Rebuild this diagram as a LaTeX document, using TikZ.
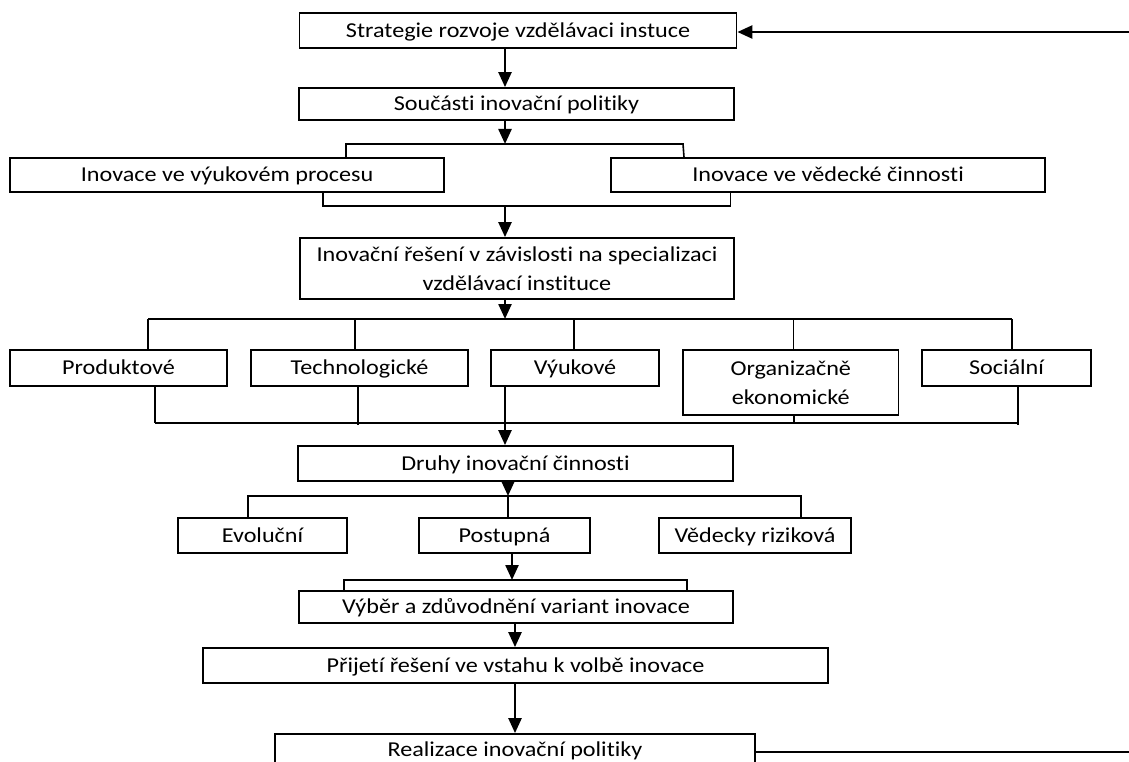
\documentclass[tikz,border=0pt]{standalone}
\usepackage{fontspec}
\setmainfont{Carlito}[FakeStretch=1.14, Ligatures=NoCommon]
\usetikzlibrary{arrows.meta}
\begin{document}
\begin{tikzpicture}[x=1pt,y=-1pt,
  box/.style={draw, line width=1.8pt, inner sep=0pt, font=\fontsize{21.2}{29}\selectfont},
  one/.style={text height=13.6pt, text depth=0pt},
  arr/.style={line width=2.4pt, -{Triangle[length=15pt,width=13pt]}},
  conn/.style={line width=1.6pt},
  thin conn/.style={line width=2pt}]
\useasboundingbox (0,0) rectangle (1129,762);
\clip (0,0) rectangle (1129,762);
% boxes
\node[box, one, minimum width=437pt, minimum height=35pt] (b1) at (518,30.5) {Strategie rozvoje vzdělávaci instuce};
\node[box, one, minimum width=435pt, minimum height=32pt] (b2) at (516.5,104) {Součásti inovační politiky};
\node[box, one, minimum width=434pt, minimum height=34pt] (b3) at (227,175) {Inovace ve výukovém procesu};
\node[box, one, minimum width=434pt, minimum height=34pt] (b4) at (828,175) {Inovace ve vědecké činnosti};
\node[box, align=center, minimum width=434pt, minimum height=61pt] (b5) at (517,268.5) {Inovační řešení v závislosti na specializaci\\vzdělávací instituce};
\node[box, one, minimum width=217pt, minimum height=36pt] (p1) at (118.5,368) {Produktové};
\node[box, one, minimum width=217pt, minimum height=36pt] (p2) at (359.5,368) {Technologické};
\node[box, one, minimum width=168pt, minimum height=36pt] (p3) at (575,368) {Výukové};
\node[box, align=center, minimum width=215.5pt, minimum height=65pt] (p4) at (790.75,382.5) {Organizačně\\ekonomické};
\node[box, one, minimum width=169pt, minimum height=36pt] (p5) at (1006.5,368) {Sociální};
\node[box, one, minimum width=435pt, minimum height=35pt] (d) at (515.5,463.5) {Druhy inovační činnosti};
\node[box, one, minimum width=169pt, minimum height=35pt] (e1) at (262.5,535.5) {Evoluční};
\node[box, one, minimum width=171pt, minimum height=35pt] (e2) at (504.5,535.5) {Postupná};
\node[box, one, minimum width=192pt, minimum height=35pt] (e3) at (755,535.5) {Vědecky riziková};
\node[box, one, minimum width=434pt, minimum height=32pt] (v) at (516,607) {Výběr a zdůvodnění variant inovace};
\node[box, one, minimum width=625pt, minimum height=35pt] (pr) at (515.5,665.5) {Přijetí řešení ve vstahu k volbě inovace};
\node[box, one, minimum width=480pt, minimum height=32pt] (r) at (515,750) {Realizace inovační politiky};
% helper coordinates
\coordinate (tr) at (1135,32);
\coordinate (br) at (1135,752);
\coordinate (xa) at (505,0);
\coordinate (xb) at (505,0);
\coordinate (xc) at (508,0);
\coordinate (xd) at (512,0);
\coordinate (xe) at (515,0);
\coordinate (k1) at (346,144);
\coordinate (k2) at (683,144);
\coordinate (k2b) at (684,0);
\coordinate (m1) at (323,206);
\coordinate (m2) at (730.5,206);
\coordinate (n1) at (148,319);
\coordinate (n2) at (355,319);
\coordinate (n3) at (574,319);
\coordinate (n4) at (793.5,319);
\coordinate (n5) at (1012,319);
\coordinate (q1) at (155,423);
\coordinate (q2) at (358,425);
\coordinate (q4) at (794,423);
\coordinate (q5) at (1018,423);
\coordinate (q5b) at (1018,424.5);
\coordinate (r1) at (248,496);
\coordinate (r3) at (801,496);
\coordinate (s1) at (344,580);
\coordinate (s2) at (687,580);
% feedback lines
\draw[arr] (tr) -- (tr -| b1.east);
\draw[thin conn] (br -| r.east) -- (br);
% main flow
\draw[arr] (xa |- b1.south) -- (xa |- b2.north);
\draw[arr] (xa |- b2.south) -- (xa |- k1);
\draw[conn] (k1 |- b3.north) -- (k1) -- (k2) -- (k2b |- b4.north);
\draw[conn] (m1 |- b3.south) -- (m1) -- (m2) -- (m2 |- b4.south);
\draw[arr] (xa |- m1) -- (xa |- b5.north);
\draw[arr] (xa |- b5.south) -- (xa |- n1);
\draw[conn] (n1) -- (n5);
\draw[conn] (n1) -- (n1 |- p1.north);
\draw[conn] (n2) -- (n2 |- p2.north);
\draw[conn] (n3) -- (n3 |- p3.north);
\draw[conn] (n4) -- (n4 |- p4.north);
\draw[conn] (n5) -- (n5 |- p5.north);
\draw[conn] (q1) -- (q5);
\draw[conn] (q1 |- p1.south) -- (q1);
\draw[conn] (q2 |- p2.south) -- (q2);
\draw[conn] (q4 |- p4.south) -- (q4);
\draw[conn] (q5b |- p5.south) -- (q5b);
\draw[arr] (xb |- p3.south) -- (xb |- d.north);
\draw[arr] (xc |- d.south) -- (xc |- r1);
\draw[conn] (r1 |- e1.north) -- (r1) -- (r3) -- (r3 |- e3.north);
\draw[conn] (xc |- r1) -- (xc |- e2.north);
\draw[arr] (xd |- e2.south) -- (xd |- s1);
\draw[conn] (s1 |- v.north) -- (s1) -- (s2) -- (s2 |- v.north);
\draw[arr] (xe |- v.south) -- (xe |- pr.north);
\draw[arr] (xe |- pr.south) -- (xe |- r.north);
\end{tikzpicture}
\end{document}
